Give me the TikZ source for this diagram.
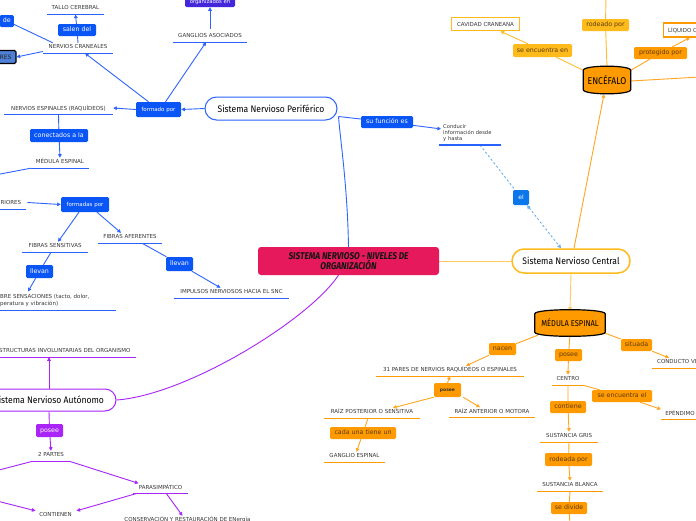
\documentclass[tikz,border=0pt]{standalone}
\usepackage{fontspec}
\setmainfont{DejaVu Sans}
\newfontfamily\titf{Fira Sans}[FakeStretch=0.9]
\newfontfamily\cenf{Fira Sans}[FakeStretch=0.85]
\newfontfamily\barf{Fira Sans}[FakeStretch=0.88]
\usetikzlibrary{arrows.meta}
\pgfdeclarelayer{bg}
\pgfdeclarelayer{lines}
\pgfdeclarelayer{shapes}
\pgfsetlayers{bg,lines,shapes,main}
\definecolor{cblue}{HTML}{2F64FF}
\definecolor{lblue}{HTML}{0A55F5}
\definecolor{ulblue}{HTML}{2962FF}
\definecolor{indig}{HTML}{4427DB}
\definecolor{steel}{HTML}{4D80D6}
\definecolor{elblue}{HTML}{0C77EA}
\definecolor{dashblue}{HTML}{6AAEF0}
\definecolor{amber}{HTML}{FFBA1C}
\definecolor{amberline}{HTML}{FFBD2E}
\definecolor{orng}{HTML}{FF9A00}
\definecolor{orline}{HTML}{FFA51F}
\definecolor{lorange}{HTML}{FFC766}
\definecolor{purp}{HTML}{A824F7}
\definecolor{pinkc}{HTML}{E6195D}
\definecolor{txtc}{HTML}{363636}
\definecolor{brownt}{HTML}{5B3B0C}
\newcommand\sfive{\fontsize{5.5}{6.5}\selectfont}
\newcommand\lfont{\fontsize{6.3}{7}\selectfont}
\newcommand\mkul[6]{\node[ut, minimum width=#5pt] (#2) at (#3,#4-4.5) {#6};
  \draw[#1] ([yshift=-3pt]#2.south west) -- ([yshift=-3pt]#2.south east);}
\newcommand\barrelpath[1]{\path[fill=orng, draw=black, line width=1.2pt]
  ([yshift=-3pt]#1.north west) .. controls ([yshift=2.5pt]#1.north west) and ([yshift=2.5pt]#1.north east) .. ([yshift=-3pt]#1.north east)
  -- ([yshift=3pt]#1.south east) .. controls ([yshift=-2.5pt]#1.south east) and ([yshift=-2.5pt]#1.south west) .. ([yshift=3pt]#1.south west) -- cycle;}
\begin{document}
\begin{tikzpicture}[x=1pt,y=-1pt,
  ut/.style={font=\sfive, text=txtc, anchor=base, inner xsep=0pt, inner ysep=1.5pt, text height=4pt, text depth=0pt},
  ulB/.style={draw=ulblue, line width=1.3pt},
  ulO/.style={draw=orng, line width=1.3pt},
  ulP/.style={draw=purp, line width=1.3pt},
  lbl/.style={rounded corners=1.3pt, font=\lfont, inner xsep=2pt, inner ysep=0pt, text height=4.7pt, text depth=1.3pt, minimum height=12pt},
  lB/.style={lbl, fill=lblue, text=white},
  lO/.style={lbl, fill=orng, text=brownt},
  lA/.style={lbl, fill=amber, text=brownt},
  lP/.style={lbl, fill=purp, text=white},
  cB/.style={draw=cblue, line width=0.9pt},
  cO/.style={draw=orline, line width=0.9pt},
  cA/.style={draw=amberline, line width=0.9pt},
  cL/.style={draw=lorange, line width=0.9pt},
  cP/.style={draw=purp, line width=0.9pt},
  arrw/.style={-{Triangle[length=3.6pt,width=3.6pt]}},
  pill/.style={fill=white, font=\titf\fontsize{9.5}{11}\selectfont, text=black, inner sep=0pt},
  barrelnode/.style={inner sep=0pt, font=\barf\fontsize{8.5}{9}\selectfont, text=black},
]
\useasboundingbox (0,0) rectangle (696,520);
\begin{pgfonlayer}{bg}
\fill[white] (0,0) rectangle (696,520);
\end{pgfonlayer}

% ---------- main nodes
\node[fill=pinkc, rounded corners=3pt, minimum width=181pt, minimum height=28pt, align=center,
  font=\cenf\bfseries\itshape\fontsize{9.8}{9.5}\selectfont, text=black!92, inner sep=0pt] (central) at (348.5,261)
  {SISTEMA NERVIOSO - NIVELES DE\\ORGANIZACIÓN};
\node[pill, draw=ulblue, line width=1pt, rounded corners=11.5pt, minimum width=132pt, minimum height=23pt] (snp) at (271,108.5) {Sistema Nervioso Periférico};
\node[pill, draw=amber, line width=1.5pt, rounded corners=12pt, minimum width=118pt, minimum height=24pt] (snc) at (571,261) {Sistema Nervioso Central};
\node[pill, draw=purp, line width=1pt, rounded corners=11pt, minimum width=134pt, minimum height=22pt] (sna) at (49,400) {Sistema Nervioso Autónomo};

\node[barrelnode, minimum width=47pt, minimum height=25pt, font=\barf\fontsize{9.8}{10}\selectfont] (enc) at (607,80) {ENCÉFALO};
\node[barrelnode, minimum width=70pt, minimum height=24pt] (medO) at (570,323) {MÉDULA ESPINAL};

% ---------- boxes
\node[draw=amber, line width=1.1pt, fill=white, minimum width=68pt, minimum height=13.5pt, inner sep=0pt, font=\sfive, text=txtc] (cav) at (485.5,24) {CAVIDAD CRANEANA};
\node[draw=orng, line width=1.2pt, fill=white, anchor=west, minimum height=14pt, inner xsep=4.5pt, inner ysep=0pt, font=\sfive, text=txtc, text height=4pt, text depth=0pt] (liq) at (663,30) {LÍQUIDO C};
\node[fill=steel, draw=black, line width=1.1pt, rounded corners=1.5pt, minimum width=21pt, minimum height=13pt, font=\fontsize{6}{7}\selectfont, text=black!85, inner sep=0pt] (res) at (5.5,57) {RES};

% ---------- labels blue
\node[lB, minimum width=38pt] (salen) at (77,30) {salen del};
\node[lB, anchor=east, inner xsep=3pt] (de) at (14,21) {de};
\node[lB, minimum width=45pt, minimum height=15pt, font=\fontsize{5.5}{6}\selectfont] (formado) at (158.5,109.5) {formado por};
\node[lB, minimum width=58pt, minimum height=13pt] (conect) at (59,135.5) {conectados a la};
\node[lB, minimum width=48pt, minimum height=15pt, font=\fontsize{5.5}{6}\selectfont] (formadas) at (85,204.5) {formadas por};
\node[lB, minimum width=27pt, minimum height=13pt] (llevanA) at (39.5,271.5) {llevan};
\node[lB, minimum width=27pt, minimum height=14pt] (llevanB) at (179.5,264) {llevan};
\node[lB, minimum width=52pt, minimum height=12pt] (sufun) at (387,122) {su función es};
\node[lbl, fill=elblue, text=white, minimum width=16pt, minimum height=15pt, font=\fontsize{6}{7}\selectfont] (el) at (521,197.5) {el};
\node[lbl, fill=indig, text=white, minimum width=50pt, minimum height=11pt, font=\fontsize{5.3}{6}\selectfont] (organ) at (210,1.5) {organizados en};

% ---------- labels orange
\node[lA, minimum width=59pt, minimum height=13pt] (seenc) at (542.5,50.5) {se encuentra en};
\node[lA, minimum width=47pt, minimum height=12pt] (rodeado) at (605.5,25) {rodeado por};
\node[lO, minimum width=53pt, minimum height=12pt] (proteg) at (660.5,53) {protegido por};
\node[lO, minimum width=27pt, minimum height=12pt] (nacen) at (502.5,349) {nacen};
\node[lO, minimum width=27pt, minimum height=14pt, font=\bfseries\fontsize{4.5}{5}\selectfont, text=black!80] (poseeB) at (447.5,390) {posee};
\node[lO, minimum width=66pt, minimum height=12pt] (cadauna) at (363,433) {cada una tiene un};
\node[lO, minimum width=27pt, minimum height=12pt] (poseeA) at (568.5,355) {posee};
\node[lO, minimum width=60pt, minimum height=12pt] (seencel) at (622,396) {se encuentra el};
\node[lO, minimum width=36pt, minimum height=12pt] (contiene) at (568,407) {contiene};
\node[lO, minimum width=47pt, minimum height=13pt] (rodeada) at (568.5,459.5) {rodeada por};
\node[lO, minimum width=36pt, minimum height=12pt] (sedivide) at (569,508) {se divide};
\node[lO, minimum width=31pt, minimum height=12pt] (situada) at (636.5,345) {situada};
% ---------- label purple
\node[lP, minimum width=27pt, minimum height=13pt] (poseeP) at (49.5,430.5) {posee};

% ---------- underlined texts
\mkul{ulB}{tallo}{75.5}{14.3}{57}{TALLO CEREBRAL}
\mkul{ulB}{ncran}{78}{53}{70}{NERVIOS CRANEALES}
\mkul{ulB}{gang}{210}{42}{74}{GANGLIOS ASOCIADOS}
\mkul{ulB}{nesp}{58.5}{114.5}{109}{NERVIOS ESPINALES (RAQUÍDEOS)}
\mkul{ulB}{medB}{60}{168}{58}{MÉDULA ESPINAL}
\mkul{ulB}{fsens}{55}{252}{66}{FIBRAS SENSITIVAS}
\mkul{ulB}{faf}{130}{243}{64}{FIBRAS AFERENTES}
\mkul{ulB}{imp}{231.5}{298}{115}{IMPULSOS NERVIOSOS HACIA EL SNC}
\mkul{ulO}{pares}{450}{376}{148}{31 PARES DE NERVIOS RAQUÍDEOS O ESPINALES}
\mkul{ulO}{rpost}{372}{418}{96}{RAÍZ POSTERIOR O SENSITIVA}
\mkul{ulO}{rant}{492}{417.5}{86}{RAÍZ ANTERIOR O MOTORA}
\mkul{ulO}{gesp}{354.5}{462}{61}{GANGLIO ESPINAL}
\mkul{ulO}{centro}{568}{385}{32}{CENTRO}
\mkul{ulO}{epend}{680}{419.5}{38}{EPÉNDIMO}
\mkul{ulO}{sgris}{569}{442}{58}{SUSTANCIA GRIS}
\mkul{ulO}{sblanca}{570}{491}{66}{SUSTANCIA BLANCA}
\mkul{ulP}{partes}{51}{461}{36}{2 PARTES}
\mkul{ulP}{parasim}{160.5}{493.5}{55}{PARASIMPÁTICO}
\mkul{ulP}{contienen}{55.5}{521}{40}{CONTIENEN}
\node[ut] (conserv) at (187.5,521.5) {CONSERVACIÓN Y RESTAURACIÓN DE ENergía};

\node[ut, anchor=base west, text width=21pt, align=right] (riores) at (0,204.5) {RIORES};
\draw[ulB] ([yshift=-3pt]riores.south west) -- ([xshift=5pt,yshift=-3pt]riores.south east);
\node[font=\sfive, text=txtc, align=left, anchor=north west, inner sep=0pt] (sens) at (0,294.5) {BRE SENSACIONES (tacto, dolor,\\peratura y vibración)};
\draw[ulB] ([yshift=-3.5pt]sens.south west) -- ++(116,0);
\node[font=\fontsize{5.2}{6.2}\selectfont, text=txtc, align=left, anchor=north west, inner sep=0pt, text width=58pt] (conducir) at (443,124) {Conducir\\información desde\\y hasta};
\draw[ulB] ([xshift=-4pt,yshift=-3.2pt]conducir.south west) -- ++(62,0);
\node[ut, anchor=base west] (estruct) at (-1,352.5) {STRUCTURAS INVOLUNTARIAS DEL ORGANISMO};
\draw[ulP] ([xshift=1pt,yshift=-3pt]estruct.south west) -- ++(136,0);
\node[ut, anchor=base west] (conducto) at (657,363.5) {CONDUCTO VE};
\draw[ulO] ([xshift=-5pt,yshift=-3pt]conducto.south west) -- ++(50,0);

% free ends
\coordinate (offL1) at (-5,175);
\coordinate (offT) at (606,-5);
\coordinate (offR) at (700,77);
\coordinate (offB) at (570,525);
\coordinate (offL2) at (-3,470.5);
\coordinate (offL3) at (-3,501);

% ---------- barrels
\begin{pgfonlayer}{shapes}
\barrelpath{enc}
\barrelpath{medO}
\end{pgfonlayer}

% ---------- connectors
\begin{pgfonlayer}{lines}
% blue
\draw[cB] (central.north) .. controls +(-1,-60) and +(2,25) .. ([xshift=1pt,yshift=-8pt]snp.east);
\draw[cB,arrw] (snp.west) -- (formado.east);
\draw[cB,arrw] (formado.west) -- (nesp.east);
\draw[cB,arrw] ([xshift=-10pt]formado.north) -- ([xshift=7pt,yshift=-3pt]ncran.south);
\draw[cB,arrw] ([xshift=7pt]formado.north) -- ([xshift=-4pt,yshift=-3pt]gang.south);
\draw[cB,arrw] (ncran.north) -- (salen) -- ([yshift=-3pt]tallo.south);
\draw[cB,arrw] ([yshift=3pt]gang.north) -- (organ);
\draw[cB] ([xshift=10pt]ncran.north west) -- (de);
\draw[cB,arrw] ([yshift=-5pt]ncran.west) -- (res.east);
\draw[cB,arrw] ([yshift=-3pt]nesp.south) -- (conect) -- (medB.north);
\draw[cB] ([yshift=-3pt]medB.south west) -- (offL1);
\draw[cB,arrw] ([xshift=6pt]riores.east) -- (formadas.west);
\draw[cB,arrw] ([xshift=-6pt]formadas.south) -- ([xshift=3pt]fsens.north);
\draw[cB,arrw] ([xshift=12pt]formadas.south) -- ([xshift=-9pt]faf.north);
\draw[cB,arrw] ([xshift=-4pt,yshift=-3pt]fsens.south) -- (llevanA) -- ([xshift=28pt,yshift=3pt]sens.north west);
\draw[cB,arrw] ([xshift=12pt,yshift=-3pt]faf.south) -- (llevanB) -- ([xshift=-11pt]imp.north);
\draw[cB,arrw] ([xshift=1pt,yshift=-8pt]snp.east) -- (sufun) -- ([xshift=-2pt,yshift=4pt]conducir.west);
\draw[draw=dashblue, line width=0.9pt, dash pattern=on 2.2pt off 2.2pt, {Triangle[length=3.6pt,width=3.6pt]}-{Triangle[length=3.6pt,width=3.6pt]}]
  ([xshift=37pt,yshift=-3.2pt]conducir.south west) -- (el) -- ([xshift=-10pt]snc.north);
% orange
\draw[cL] (central.east) -- (snc.west);
\draw[cO,arrw] ([xshift=3pt]snc.north) -- ([xshift=-3pt,yshift=-1.5pt]enc.south);
\draw[cL,arrw] (snc.south) -- (medO.north);
\draw[cA,arrw] ([yshift=-3pt]enc.north west) -- (seenc) -- ([xshift=15pt]cav.south);
\draw[cA] (enc.north) -- (rodeado) -- (offT);
\draw[cO,arrw] ([yshift=-3pt]enc.north east) -- (proteg) -- ([xshift=27pt]liq.south west);
\draw[cO] ([yshift=-1pt]enc.east) -- (offR);
\draw[cO,arrw] ([xshift=3pt]medO.south west) -- (nacen) -- ([xshift=16pt]pares.north);
\draw[cO,arrw] (poseeB.north) -- ([yshift=-3pt]pares.south);
\draw[cO,arrw] (poseeB.south west) -- ([xshift=21pt]rpost.north);
\draw[cO,arrw] ([xshift=2pt]poseeB.south east) -- ([xshift=-12pt]rant.north);
\draw[cO,arrw] ([xshift=-4pt,yshift=-3pt]rpost.south) -- (cadauna) -- ([xshift=2pt]gesp.north);
\draw[cO,arrw] (medO.south) -- (poseeA) -- (centro.north);
\draw[cO,arrw] ([xshift=15pt,yshift=-3pt]centro.south) -- (seencel) -- ([xshift=-19pt]epend.north);
\draw[cO,arrw] ([yshift=-3pt]centro.south) -- (contiene) -- (sgris.north);
\draw[cO,arrw] ([yshift=-3pt]sgris.south) -- (rodeada) -- (sblanca.north);
\draw[cO] ([yshift=-3pt]sblanca.south) -- (sedivide) -- (offB);
\draw[cO,arrw] ([yshift=2pt]medO.south east) -- (situada) -- ([xshift=12pt]conducto.north west);
% purple
\draw[cP] ([xshift=-10pt]central.south) .. controls +(-30,45) and +(70,-5) .. (sna.east);
\draw[cP,arrw] (sna.north) -- ([xshift=50pt,yshift=-3pt]estruct.south west);
\draw[cP,arrw] (sna.south) -- (poseeP) -- (partes.north);
\draw[cP] ([yshift=-3pt]partes.south west) -- (offL2);
\draw[cP,arrw] ([yshift=-3pt]partes.south east) -- ([xshift=-22pt]parasim.north);
\draw[cP,arrw] ([xshift=3pt,yshift=-3pt]parasim.south west) -- ([xshift=21pt]contienen.north);
\draw[cP,arrw] (offL3) -- ([xshift=-20pt]contienen.north);
\draw[cP,arrw] ([xshift=6pt,yshift=-3pt]parasim.south) -- ([xshift=-5pt]conserv.north);
\end{pgfonlayer}
\end{tikzpicture}
\end{document}
